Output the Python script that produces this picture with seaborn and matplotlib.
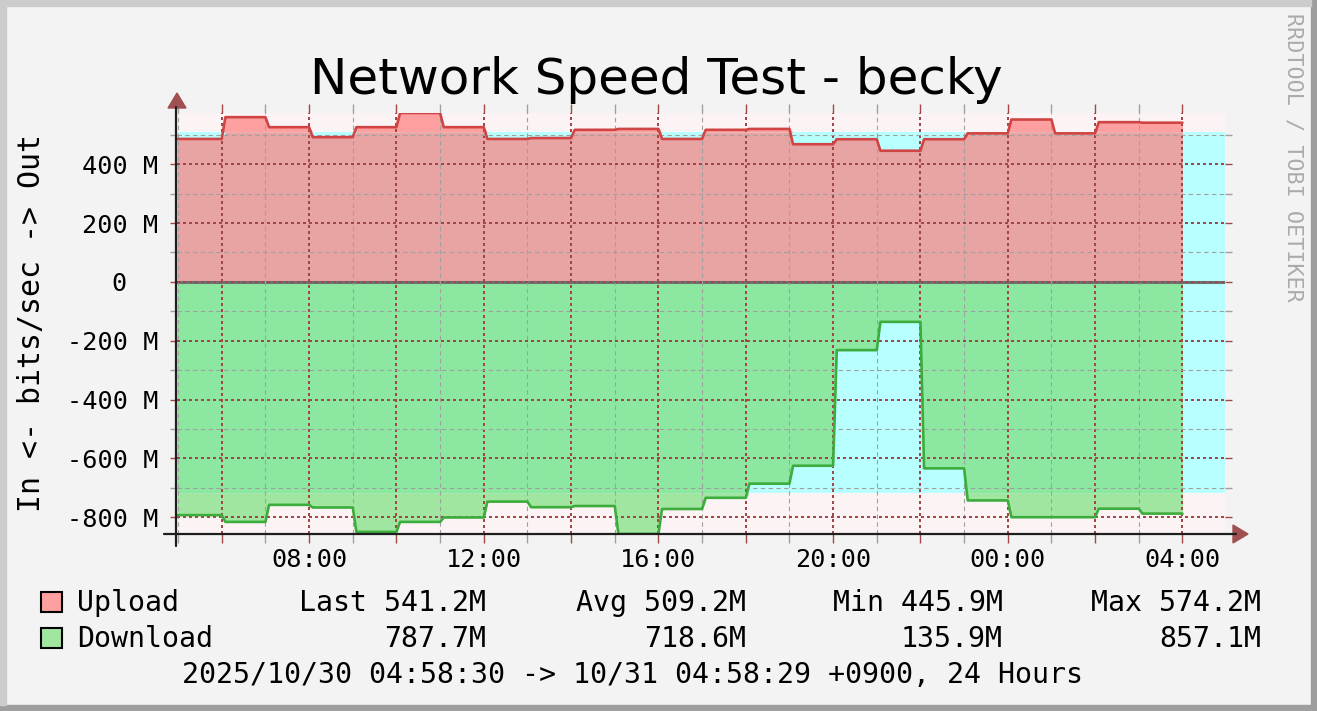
import matplotlib
matplotlib.use("Agg")
import matplotlib.pyplot as plt
import matplotlib.patches as mpatches
from matplotlib.lines import Line2D
from matplotlib.ticker import FixedLocator, FuncFormatter
import seaborn as sns

# hourly speed tests, start hour of each step (05:00 .. 03:00 next day)
hours = list(range(5, 28))
upload = [486, 560, 526, 492, 526, 574.2, 526, 486, 489, 517, 520, 486,
          517, 520, 468, 485, 445.9, 485, 505, 552, 505, 543, 541.2]
download = [793, 816, 758, 767, 850, 816, 801, 747, 766, 762, 857.1, 772,
            734, 686, 625, 232, 135.9, 634, 743, 800, 800, 771, 787.7]

stat_names = ["Last", "Avg", "Min", "Max"]
upload_stats = ["541.2M", "509.2M", "445.9M", "574.2M"]
download_stats = ["787.7M", "718.6M", "135.9M", "857.1M"]
upload_avg = 509.2
download_avg = 718.6
upload_max = 574.2
download_max = 857.1

t_start = 4 + 58.5 / 60          # 04:58:30
t_end = 28 + 58.48 / 60          # 04:58:29 next day
xtick_hours = [8, 12, 16, 20, 24, 28]
xtick_labels = ["08:00", "12:00", "16:00", "20:00", "00:00", "04:00"]

W, H = 1317, 711


def px(x, y):
    return (x / W, 1 - y / H)


# step series with a short ramp at each hour (5 min rrd step)
ramp = 5 / 60
t, up_s, dn_s = [], [], []
for i, (h, u, d) in enumerate(zip(hours, upload, download)):
    t += [t_start if i == 0 else h + ramp, h + 1]
    up_s += [u, u]
    dn_s += [-d, -d]

sns.set_theme(style="white")
plt.rcParams["font.family"] = ["DejaVu Sans Mono"]
plt.rcParams["text.color"] = "black"

fig = plt.figure(figsize=(W / 100, H / 100), dpi=100, facecolor="#f3f3f3")
l, b = px(177, 534)
r, tp = px(1225, 113)
ax = fig.add_axes([l, b, r - l, tp - b])
ax.set_facecolor("#fcf4f4")

# average band, then areas split at the average
ax.fill_between([t_start, t_end], -download_avg, upload_avg, color="#b8ffff", lw=0, zorder=1)
up_low = [min(v, upload_avg) for v in up_s]
up_high = [max(v, upload_avg) for v in up_s]
dn_low = [max(v, -download_avg) for v in dn_s]
dn_high = [min(v, -download_avg) for v in dn_s]
ax.fill_between(t, 0, up_low, color="#e8a3a3", lw=0, zorder=1.2)
ax.fill_between(t, upload_avg, up_high, color="#ffa0a0", lw=0, zorder=1.2)
ax.fill_between(t, 0, dn_low, color="#8ce8a0", lw=0, zorder=1.2)
ax.fill_between(t, -download_avg, dn_high, color="#a0e6a0", lw=0, zorder=1.2)

ax.axhline(0, color="#707070", lw=2.2, zorder=2.3)

sns.lineplot(x=t, y=up_s, sort=False, estimator=None, color="#d04444", linewidth=1.9, ax=ax, zorder=3)
sns.lineplot(x=t, y=dn_s, sort=False, estimator=None, color="#3cac3c", linewidth=1.9, ax=ax, zorder=3)

ax.set_xlim(t_start, t_end)
ax.set_ylim(-download_max, upload_max)
ax.set_xlabel("")
ax.set_ylabel("")

ax.xaxis.set_major_locator(FixedLocator(range(6, 29, 2)))
ax.xaxis.set_minor_locator(FixedLocator(range(5, 29, 2)))
lab = dict(zip(xtick_hours, xtick_labels))
ax.xaxis.set_major_formatter(FuncFormatter(lambda v, p: lab.get(int(round(v)), "")))
ax.yaxis.set_major_locator(FixedLocator(range(-800, 401, 200)))
ax.yaxis.set_minor_locator(FixedLocator(range(-700, 501, 200)))
ax.yaxis.set_major_formatter(FuncFormatter(lambda v, p: f"{int(v)} M" if v != 0 else "0  "))

ax.set_axisbelow(False)
ax.grid(True, which="major", color="#a04848", linestyle=(0, (1.5, 1.5)), linewidth=1.44)
ax.grid(True, which="minor", color="#a0a0a0", linestyle=(0, (4, 3)), linewidth=0.8)

ax.tick_params(axis="x", which="both", direction="out", length=6.5, width=1.0,
               top=True, bottom=True, labelsize=18.2, pad=3.6, labelcolor="black")
ax.tick_params(axis="y", which="both", direction="out", length=5, width=1.0,
               left=True, right=True, labelsize=18.2, pad=8.6, labelcolor="black")
ax.tick_params(axis="both", which="major", color="#a04848")
ax.tick_params(axis="both", which="minor", color="#a0a0a0")
for s in ax.spines.values():
    s.set_visible(False)

# axis lines with arrow heads
fig.add_artist(Line2D([164 / W, 1236 / W], [px(0, 534)[1]] * 2, color="#1e1e1e", lw=1.6))
fig.add_artist(Line2D([176.5 / W] * 2, [px(0, 546)[1], px(0, 107)[1]], color="#1e1e1e", lw=1.6))
fig.add_artist(mpatches.Polygon([px(168, 108), px(186, 108), px(177, 93)], closed=True,
                                color="#a05050", transform=fig.transFigure))
fig.add_artist(mpatches.Polygon([px(1233, 525), px(1233, 543), px(1248, 534)], closed=True,
                                color="#a05050", transform=fig.transFigure))

# frame
fig.add_artist(mpatches.Rectangle((0, 0), 1, 6 / H, color="#9e9e9e", transform=fig.transFigure))
fig.add_artist(mpatches.Rectangle((1311 / W, 0), 6 / W, 1, color="#9e9e9e", transform=fig.transFigure))
fig.add_artist(mpatches.Rectangle((0, 1 - 6 / H), 1311 / W, 6 / H, color="#cccccc", transform=fig.transFigure))
fig.add_artist(mpatches.Rectangle((0, 6 / H), 6 / W, 1, color="#cccccc", transform=fig.transFigure))

fig.text(*px(656, 94), "Network Speed Test - becky", ha="center", va="baseline",
         fontsize=36, family="DejaVu Sans", color="black")
fig.text(*px(32, 323), "In <- bits/sec -> Out", rotation=90, ha="center", va="center",
         fontsize=21.5, color="black")
fig.text(*px(1293, 157), "RRDTOOL / TOBI OETIKER", rotation=270, ha="center", va="center",
         fontsize=15.7, color="#ababab")

# legend
fig.add_artist(mpatches.Rectangle(px(41, 612), 21 / W, 20 / H, facecolor="#ffa0a0",
                                  edgecolor="black", lw=1.5, transform=fig.transFigure))
fig.add_artist(mpatches.Rectangle(px(41, 648), 21 / W, 20 / H, facecolor="#a0e6a0",
                                  edgecolor="black", lw=1.5, transform=fig.transFigure))
fig.text(*px(77, 611), "Upload", ha="left", va="baseline", fontsize=20.3, color="black")
fig.text(*px(77, 647), "Download", ha="left", va="baseline", fontsize=20.3, color="black")
for x_end, name, us, ds in zip([486, 746, 1003, 1261], stat_names, upload_stats, download_stats):
    fig.text(*px(x_end, 611), f"{name} {us}", ha="right", va="baseline", fontsize=20.3, color="black")
    fig.text(*px(x_end, 647), ds, ha="right", va="baseline", fontsize=20.3, color="black")
fig.text(*px(632, 683), "2025/10/30 04:58:30 -> 10/31 04:58:29 +0900, 24 Hours",
         ha="center", va="baseline", fontsize=20.3, color="black")

fig.savefig("out.png", dpi=100, facecolor=fig.get_facecolor())
